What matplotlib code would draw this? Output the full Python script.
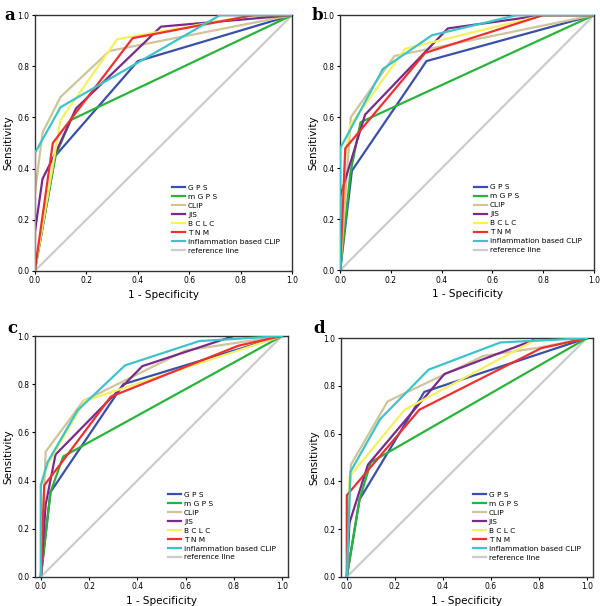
import matplotlib
matplotlib.use("Agg")
import matplotlib.pyplot as plt

labels = ["G P S", "m G P S", "CLIP", "JIS", "B C L C", "T N M",
          "inflammation based CLIP", "reference line"]
colors = ["#3a4fa8", "#2ab33a", "#cfc49a", "#7a2a8a", "#f4f060", "#ee3030",
          "#3cc4c8", "#cccccc"]

# Panel a
a_gps_x = [0, 0.08, 0.40, 1.0];               a_gps_y = [0, 0.45, 0.82, 1.0]
a_mgps_x = [0, 0.08, 0.14, 1.0];              a_mgps_y = [0, 0.45, 0.59, 1.0]
a_clip_x = [0, 0, 0.03, 0.10, 0.29, 1.0];      a_clip_y = [0, 0.30, 0.54, 0.68, 0.86, 1.0]
a_jis_x = [0, 0, 0.03, 0.08, 0.16, 0.49, 1.0]; a_jis_y = [0, 0.15, 0.36, 0.46, 0.635, 0.955, 1.0]
a_bclc_x = [0, 0.10, 0.32, 0.85, 1.0];         a_bclc_y = [0, 0.59, 0.906, 1.0, 1.0]
a_tnm_x = [0, 0.07, 0.38, 0.85, 1.0];          a_tnm_y = [0, 0.50, 0.91, 1.0, 1.0]
a_icl_x = [0, 0, 0.10, 0.72, 1.0];             a_icl_y = [0, 0.46, 0.64, 1.0, 1.0]

# Panel b
b_gps_x = [0, 0.046, 0.34, 1.0];               b_gps_y = [0, 0.39, 0.82, 1.0]
b_mgps_x = [0, 0.04, 0.08, 1.0];               b_mgps_y = [0, 0.38, 0.58, 1.0]
b_clip_x = [0, 0.042, 0.214, 1.0];             b_clip_y = [0, 0.60, 0.84, 1.0]
b_jis_x = [0, 0, 0.098, 0.424, 0.8, 1.0];      b_jis_y = [0, 0.29, 0.61, 0.948, 1.0, 1.0]
b_bclc_x = [0, 0.02, 0.04, 0.256, 0.8, 1.0];   b_bclc_y = [0, 0.45, 0.57, 0.868, 1.0, 1.0]
b_tnm_x = [0, 0.02, 0.335, 0.8, 1.0];          b_tnm_y = [0, 0.478, 0.852, 1.0, 1.0]
b_icl_x = [0, 0, 0.168, 0.361, 0.696, 1.0];    b_icl_y = [0, 0.478, 0.789, 0.921, 1.0, 1.0]

# Panel c
c_gps_x = [0, 0.04, 0.342, 1.0];               c_gps_y = [0, 0.352, 0.80, 1.0]
c_mgps_x = [0, 0.04, 0.093, 1.0];              c_mgps_y = [0, 0.352, 0.50, 1.0]
c_clip_x = [0, 0.02, 0.176, 0.60, 1.0];        c_clip_y = [0, 0.52, 0.73, 0.94, 1.0]
c_jis_x = [0, 0.02, 0.061, 0.421, 0.8, 1.0];   c_jis_y = [0, 0.30, 0.508, 0.875, 1.0, 1.0]
c_bclc_x = [0, 0, 0.03, 0.18, 1.0];            c_bclc_y = [0, 0.38, 0.47, 0.73, 1.0]
c_tnm_x = [0, 0.014, 0.09, 0.29, 0.82, 1.0];   c_tnm_y = [0, 0.38, 0.48, 0.748, 0.96, 1.0]
c_icl_x = [0, 0, 0.028, 0.152, 0.349, 0.657, 1.0]
c_icl_y = [0, 0.38, 0.476, 0.691, 0.878, 0.979, 1.0]

# Panel d
d_gps_x = [0, 0.053, 0.323, 1.0];              d_gps_y = [0, 0.324, 0.775, 1.0]
d_mgps_x = [0, 0.053, 0.10, 1.0];              d_mgps_y = [0, 0.324, 0.48, 1.0]
d_clip_x = [0, 0.017, 0.17, 0.571, 0.8, 1.0];  d_clip_y = [0, 0.47, 0.735, 0.926, 0.96, 1.0]
d_jis_x = [0, 0.011, 0.088, 0.407, 0.8, 1.0];  d_jis_y = [0, 0.226, 0.47, 0.85, 1.0, 1.0]
d_bclc_x = [0, 0.011, 0.241, 0.8, 1.0];        d_bclc_y = [0, 0.42, 0.70, 1.0, 1.0]
d_tnm_x = [0, 0, 0.302, 0.81, 1.0];            d_tnm_y = [0, 0.342, 0.70, 0.958, 1.0]
d_icl_x = [0, 0.015, 0.139, 0.341, 0.64, 1.0]; d_icl_y = [0, 0.44, 0.661, 0.868, 0.982, 1.0]

ref_x = [0, 1.0]; ref_y = [0, 1.0]

panels = [
    ("a", [(a_gps_x, a_gps_y), (a_mgps_x, a_mgps_y), (a_clip_x, a_clip_y), (a_jis_x, a_jis_y),
           (a_bclc_x, a_bclc_y), (a_tnm_x, a_tnm_y), (a_icl_x, a_icl_y)],
     [0.058, 0.553, 0.429, 0.422], (0.0, 1.0)),
    ("b", [(b_gps_x, b_gps_y), (b_mgps_x, b_mgps_y), (b_clip_x, b_clip_y), (b_jis_x, b_jis_y),
           (b_bclc_x, b_bclc_y), (b_tnm_x, b_tnm_y), (b_icl_x, b_icl_y)],
     [0.567, 0.554, 0.423, 0.421], (0.0, 1.0)),
    ("c", [(c_gps_x, c_gps_y), (c_mgps_x, c_mgps_y), (c_clip_x, c_clip_y), (c_jis_x, c_jis_y),
           (c_bclc_x, c_bclc_y), (c_tnm_x, c_tnm_y), (c_icl_x, c_icl_y)],
     [0.058, 0.048, 0.422, 0.3975], (-0.025, 1.025)),
    ("d", [(d_gps_x, d_gps_y), (d_mgps_x, d_mgps_y), (d_clip_x, d_clip_y), (d_jis_x, d_jis_y),
           (d_bclc_x, d_bclc_y), (d_tnm_x, d_tnm_y), (d_icl_x, d_icl_y)],
     [0.568, 0.048, 0.420, 0.394], (-0.025, 1.025)),
]

letter_pos = {"a": (0.008, 0.988), "b": (0.52, 0.988), "c": (0.012, 0.472), "d": (0.522, 0.472)}

fig = plt.figure(figsize=(6.0, 6.06), dpi=100)
for name, series, rect, xl in panels:
    ax = fig.add_axes(rect)
    ax.plot(ref_x, ref_y, color=colors[7], lw=1.6, zorder=1)
    handles = []
    for i, (xs, ys) in enumerate(series):
        ln, = ax.plot(xs, ys, color=colors[i], lw=1.6, zorder=2 + i * 0.1)
        handles.append(ln)
    refh, = ax.plot([], [], color=colors[7], lw=1.6)
    handles.append(refh)
    ax.set_xlim(*xl)
    ax.set_ylim(0, 1.0)
    ax.set_xticks([0, 0.2, 0.4, 0.6, 0.8, 1.0])
    ax.set_yticks([0, 0.2, 0.4, 0.6, 0.8, 1.0])
    ax.set_xticklabels(["0.0", "0.2", "0.4", "0.6", "0.8", "1.0"])
    ax.set_yticklabels(["0.0", "0.2", "0.4", "0.6", "0.8", "1.0"])
    ax.tick_params(labelsize=5.5, length=2.5, width=0.8, direction="out", pad=1.5)
    for s in ax.spines.values():
        s.set_linewidth(1.0)
        s.set_color("#333333")
    ax.set_xlabel("1 - Specificity", fontsize=7.5, labelpad=3)
    ax.set_ylabel("Sensitivity", fontsize=7.5, labelpad=3)
    ax.legend(handles, labels, loc="lower right", bbox_to_anchor=(0.97, 0.05),
              frameon=False, fontsize=5.3, handlelength=1.8, handletextpad=0.35,
              labelspacing=0.38, borderaxespad=0.2)
    lx, ly = letter_pos[name]
    fig.text(lx, ly, name, fontsize=12, fontweight="bold", family="DejaVu Serif",
             ha="left", va="top")

fig.savefig("out.png", dpi=100, facecolor="white")
